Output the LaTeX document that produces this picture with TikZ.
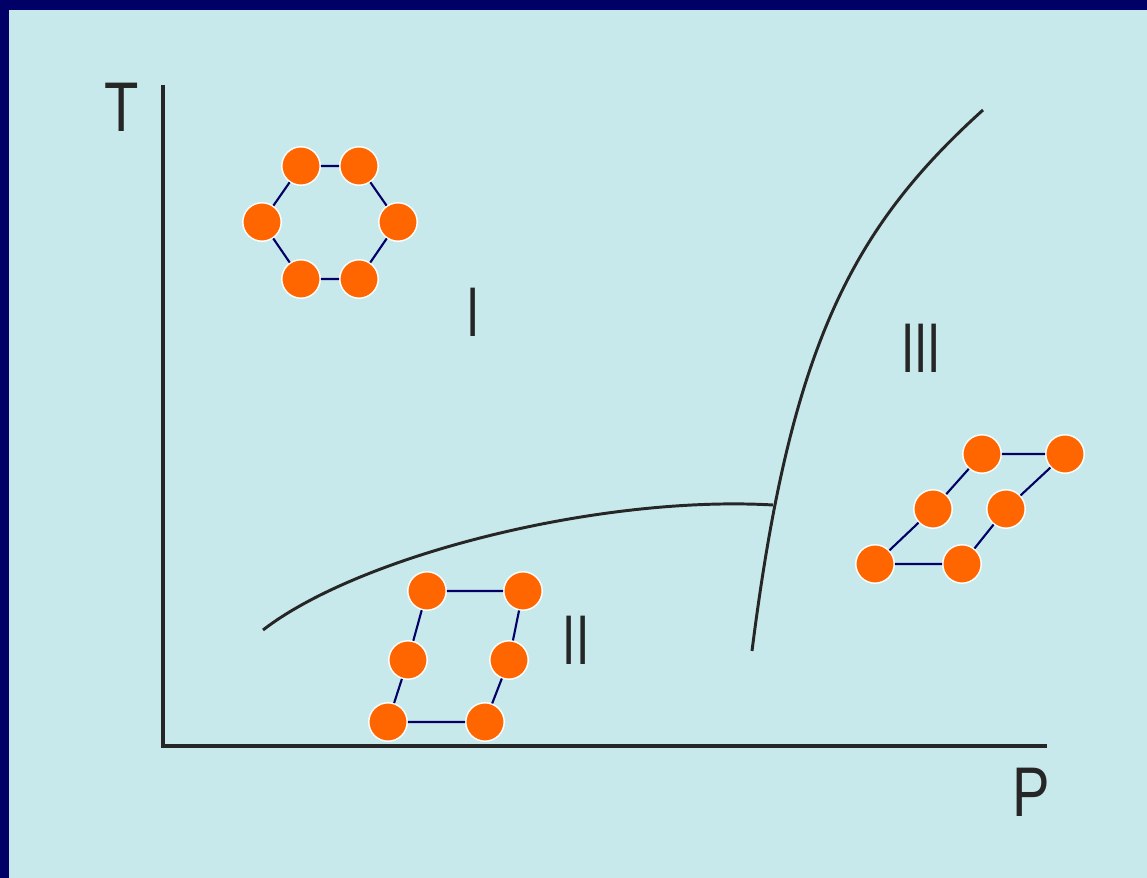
\documentclass[tikz,border=0pt]{standalone}
\usepackage{fontspec}
\setmainfont{Liberation Sans}
\newfontfamily\narrowfont[FakeStretch=0.68]{Liberation Sans}
\newfontfamily\axisfont[FakeStretch=0.8]{Liberation Sans}
\definecolor{paleblue}{HTML}{C8E9EB}
\definecolor{navy}{HTML}{000066}
\definecolor{atomorange}{HTML}{FF6600}
\tikzset{
  atom/.style={circle,fill=atomorange,draw=white,line width=1pt,minimum size=0.96cm,inner sep=0pt},
  bond/.style={navy,line width=1.5pt},
  phase/.style={anchor=base,inner sep=0pt,text=black!85,font=\narrowfont\fontsize{50}{50}\selectfont},
  axislabel/.style={phase,font=\axisfont\fontsize{50}{50}\selectfont}
}
\begin{document}
\begin{tikzpicture}[x=0.025cm,y=-0.025cm]
  \useasboundingbox (0,0) rectangle (1147,878);
  \fill[navy] (0,0) rectangle (1147,878);
  \fill[paleblue] (9,10) rectangle (1147,878);
  % axes
  \draw[black!85,line width=2.4pt] (163,85) -- (163,746) -- (1047,746);
  \node[axislabel] (tlabel) at (122,132) {T};
  \node[axislabel] (plabel) at (1031,817) {P};
  % phase boundaries
  \draw[black!85,line width=2.1pt] (263,630) .. controls (360,555) and (600,495) .. (773,505);
  \draw[black!85,line width=2.1pt] (752,651) .. controls (790,350) and (850,230) .. (983,110);
  \node[phase] (one) at (473,337) {I};
  \node[phase] (two) at (576,665) {II};
  \node[phase] (three) at (921,373) {III};
  % ring molecule (phase I)
  \node[atom] (h1) at (301,166) {};
  \node[atom] (h2) at (359,166) {};
  \node[atom] (h3) at (398,222) {};
  \node[atom] (h4) at (359,279) {};
  \node[atom] (h5) at (301,279) {};
  \node[atom] (h6) at (262,222) {};
  \draw[bond] (h1) -- (h2) -- (h3) -- (h4) -- (h5) -- (h6) -- (h1);
  % chain molecule (phase II)
  \node[atom] (a1) at (427,591) {};
  \node[atom] (a2) at (523,591) {};
  \node[atom] (a3) at (408,660) {};
  \node[atom] (a4) at (509,660) {};
  \node[atom] (a5) at (388,722) {};
  \node[atom] (a6) at (485,722) {};
  \draw[bond] (a1) -- (a2) -- (a4) -- (a6) -- (a5) -- (a3) -- (a1);
  % chain molecule (phase III)
  \node[atom] (b1) at (982,454) {};
  \node[atom] (b2) at (1065,454) {};
  \node[atom] (b3) at (933,509) {};
  \node[atom] (b4) at (1006,509) {};
  \node[atom] (b5) at (875,564) {};
  \node[atom] (b6) at (962,564) {};
  \draw[bond] (b1) -- (b2) -- (b4) -- (b6) -- (b5) -- (b3) -- (b1);
\end{tikzpicture}
\end{document}
